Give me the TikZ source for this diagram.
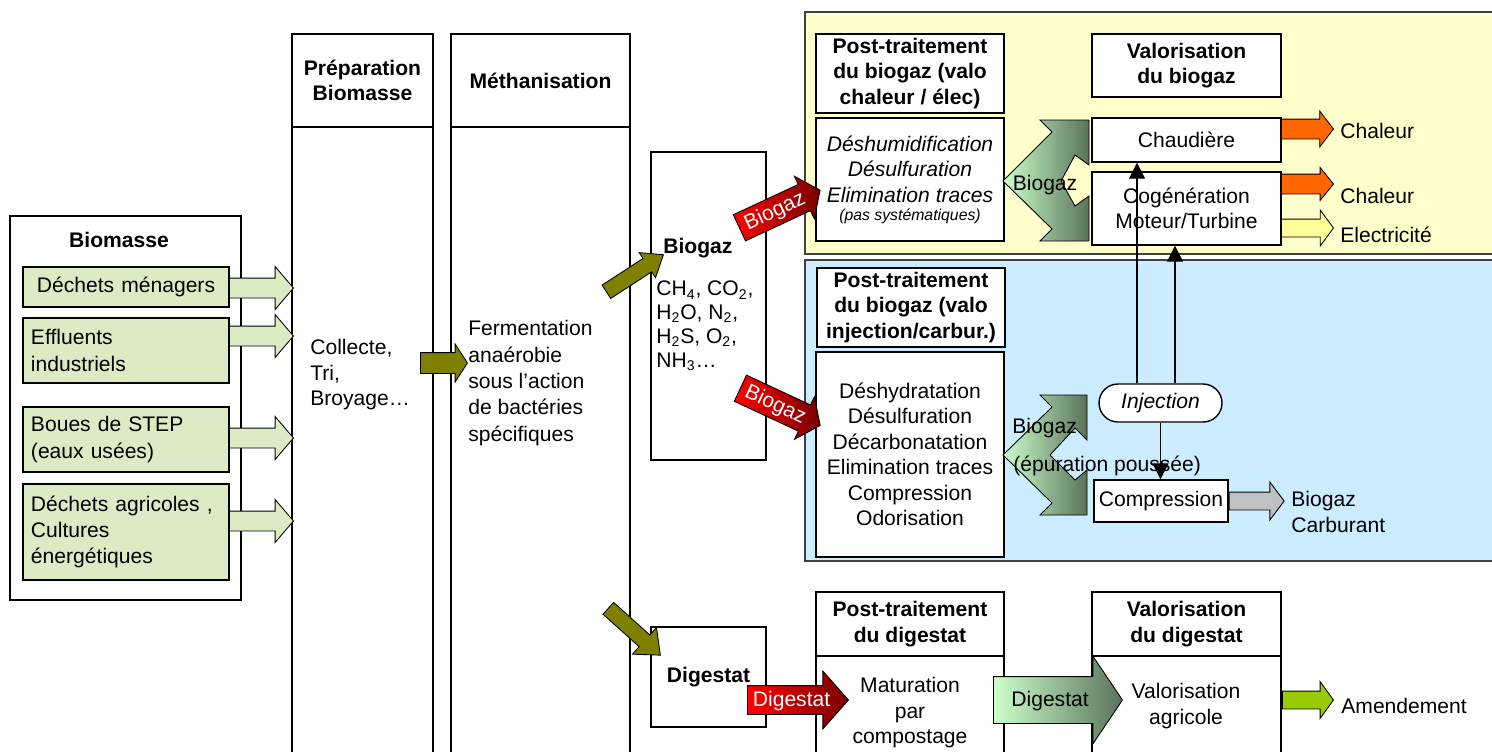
\documentclass[tikz,border=0pt]{standalone}
\usepackage{fontspec}
\setmainfont{Liberation Sans}
\usepackage{xcolor}
\usetikzlibrary{shapes.arrows,arrows.meta,positioning}

\definecolor{srcgreen}{RGB}{220,235,195}
\definecolor{olivebr}{RGB}{128,128,0}
\definecolor{zonejaune}{RGB}{255,255,204}
\definecolor{zonebleu}{RGB}{204,236,255}
\definecolor{orangeh}{RGB}{255,102,0}
\definecolor{jauneel}{RGB}{255,255,153}
\definecolor{griscarb}{RGB}{192,192,192}
\definecolor{vertamend}{RGB}{153,204,0}
\definecolor{rougeclair}{RGB}{255,0,0}
\definecolor{rougefonce}{RGB}{120,0,0}
\definecolor{vertclair}{RGB}{204,255,204}
\definecolor{vertfonce}{RGB}{90,115,90}

\newcommand{\diagfont}{\fontsize{12}{14.5}\selectfont}

\begin{document}
\begin{tikzpicture}[
  x=0.2mm, y=-0.2mm,
  font=\diagfont,
  box/.style={
    draw=black,
    line width=0.8pt,
    fill=white,
    inner sep=0pt,
    align=center
  },
  sz/.style 2 args={
    minimum width=#1*0.2mm,
    minimum height=#2*0.2mm
  },
  src/.style={
    box,
    fill=srcgreen,
    align=left,
    text width=38mm,
    inner xsep=1.6mm,
    font=\fontsize{12}{15}\selectfont
  },
  ttl/.style={
    inner sep=0pt,
    align=center,
    font=\diagfont\bfseries
  },
  txt/.style={
    inner sep=0pt,
    align=left
  },
  zone/.style={
    draw=black!75,
    line width=0.8pt,
    inner sep=0pt
  },
  chev/.style={
    draw=black,
    line width=0.5pt,
    left color=vertclair,
    right color=vertfonce
  },
  barrow/.style={
    single arrow,
    draw=black,
    line width=0.5pt,
    single arrow head indent=0pt,
    inner xsep=0pt,
    anchor=tail
  },
  tarrow/.style={
    barrow,
    text height=3mm,
    text depth=0.6mm,
    inner ysep=1mm
  },
  conn/.style={
    -{Triangle[length=3.2mm,width=3.2mm]},
    line width=0.6pt
  }
]
  \useasboundingbox (0,0) rectangle (1492,751);

  % Zones de valorisation
  \node[zone, fill=zonejaune, sz={690}{242}] (zchal) at (1150,133) {};
  \node[zone, fill=zonebleu, sz={690}{301}] (zinj) at (1150,410.5) {};

  % Biomasse
  \node[box, sz={231}{384}] (biomasse) at (125.5,408) {};
  \node[ttl] (tbiom) at (119,240) {Biomasse};
  \node[src, sz={206}{40}, align=center] (menag) at (126,287) {Déchets ménagers};
  \node[src, sz={206}{65}] (efflu) at (126,350.5) {Effluents\\industriels};
  \node[src, sz={206}{65}] (boues) at (126,439.5) {Boues de STEP\\(eaux usées)};
  \node[src, sz={206}{96}] (agri) at (126,532) {Déchets agricoles ,\\Cultures\\énergétiques};

  % Preparation
  \node[box, sz={141}{93}, font=\diagfont\bfseries] (prepH) at (362.5,80.5) {Préparation\\Biomasse};
  \node[box, sz={141}{643}] (prepB) at (362.5,448.5) {};
  \node[txt, anchor=west] (prepT) at (310,375) {Collecte,\\Tri,\\Broyage…};

  % Methanisation
  \node[box, sz={179}{93}, font=\diagfont\bfseries] (methH) at (540.5,80.5) {Méthanisation};
  \node[box, sz={179}{643}] (methB) at (540.5,448.5) {};
  \node[txt, anchor=west, font=\fontsize{12}{15}\selectfont] (methT) at (468,383) {Fermentation\\anaérobie\\sous l’action\\de bactéries\\spécifiques};

  % Produits
  \node[box, sz={115}{308}] (biogaz) at (708.5,306) {};
  \node[ttl, anchor=west] (tbiogaz) at (663,248) {Biogaz};
  \node[txt, anchor=west, font=\fontsize{12}{13.6}\selectfont] (compo) at (656,326) {CH\textsubscript{4}, CO\textsubscript{2},\\H\textsubscript{2}O, N\textsubscript{2},\\H\textsubscript{2}S, O\textsubscript{2},\\NH\textsubscript{3}…};
  \node[box, sz={115}{100}, font=\diagfont\bfseries] (digestat) at (708.5,677) {Digestat};

  % Valo chaleur / elec
  \node[box, sz={188}{79}, font=\diagfont\bfseries] (ptChalH) at (910,73.5) {Post-traitement\\du biogaz (valo\\chaleur / élec)};
  \node[box, sz={188}{123}, font=\diagfont\itshape] (ptChalB) at (910,179.5) {Déshumidification\\Désulfuration\\Elimination traces\\[-1.5mm]{\fontsize{9}{10}\selectfont(pas systématiques)}};
  \node[box, sz={189}{63}, font=\diagfont\bfseries] (valBioH) at (1186.5,65.5) {Valorisation\\du biogaz};
  \node[box, sz={189}{44}] (chaud) at (1186.5,140) {Chaudière};
  \node[box, sz={189}{73}] (cogen) at (1186.5,208.5) {Cogénération\\Moteur/Turbine};

  % Valo injection / carburant
  \node[box, sz={188}{79}, font=\diagfont\bfseries] (ptInjH) at (911,307.5) {Post-traitement\\du biogaz (valo\\injection/carbur.)};
  \node[box, sz={188}{205}] (ptInjB) at (910,454.5) {Déshydratation\\Désulfuration\\Décarbonatation\\Elimination traces\\Compression\\Odorisation};
  \node[box, sz={123}{38}, rounded corners=3.8mm, font=\diagfont\itshape] (inj) at (1160.5,403) {Injection};
  \node[box, sz={134}{42}] (comp) at (1161,501) {Compression};

  % Digestat
  \node[box, sz={188}{64}, font=\diagfont\bfseries] (ptDigH) at (910,624) {Post-traitement\\du digestat};
  \node[box, sz={188}{114}] (ptDigB) at (910,713) {Maturation\\par\\compostage};
  \node[box, sz={189}{64}, font=\diagfont\bfseries] (valDigH) at (1186.5,624) {Valorisation\\du digestat};
  \node[box, sz={189}{114}] (valDigB) at (1186.5,713) {};
  \node[txt, align=center] (valDigT) at (1186,706) {Valorisation\\agricole};

  % Chevrons biogaz
  \draw[chev] (1040,120) -- (1089,120) -- (1089,165) -- (1075,155) -- (1061,181) -- (1075,206) -- (1089,196) -- (1089,241) -- (1040,241) -- (1052,229) -- (1003,181) -- (1052,132) -- cycle;
  \node[txt] (tchev1) at (1045,185) {Biogaz};
  \draw[chev] (1040,395) -- (1087,395) -- (1087,440) -- (1075,428) -- (1050,455) -- (1075,480) -- (1087,470) -- (1087,515) -- (1040,515) -- (1052,503) -- (1003,455) -- (1052,407) -- cycle;
  \node[txt, anchor=west] (tchev2) at (1012,428) {Biogaz};
  \node[txt, anchor=west] (tepur) at (1013,466) {(épuration poussée)};

  % Sorties
  \node[txt, anchor=west] (chal1) at (1340,131) {Chaleur};
  \node[txt, anchor=west] (chal2) at (1340,196) {Chaleur};
  \node[txt, anchor=west] (elec) at (1340,235) {Electricité};
  \node[txt, anchor=west] (carb) at (1291,512) {Biogaz\\Carburant};
  \node[txt, anchor=west] (amend) at (1341,706) {Amendement};

  % Fleches biomasse
  \foreach \y in {288,336,438,521}
    \node[barrow, fill=srcgreen, inner ysep=1.9mm, single arrow head extend=2.3mm, single arrow tip angle=99, minimum height=12.8mm] (src\y) at (229,\y) {};

  % Fleches olive
  \node[barrow, fill=olivebr, inner ysep=2mm, single arrow head extend=1.7mm, single arrow tip angle=114, minimum height=9.4mm] (olive1) at (420,363) {};
  \node[barrow, fill=olivebr, rotate=33, inner ysep=1.5mm, single arrow head extend=1.4mm, single arrow tip angle=76, minimum height=13.6mm] (olive2) at (606,292) {};
  \node[barrow, fill=olivebr, rotate=-42, inner ysep=1.5mm, single arrow head extend=2mm, single arrow tip angle=80, minimum height=14mm] (olive3) at (608,608) {};

  % Fleches rouges et vertes
  \node[tarrow, left color=rougeclair, right color=rougefonce, text=white, rotate=25, single arrow head extend=1.8mm, single arrow tip angle=107, minimum height=17.8mm] (rouge1) at (739,228) {Biogaz};
  \node[tarrow, left color=rougeclair, right color=rougefonce, text=white, rotate=-25, single arrow head extend=1.8mm, single arrow tip angle=107, minimum height=17.6mm] (rouge2) at (740,388) {Biogaz};
  \node[tarrow, left color=rougeclair, right color=rougefonce, text=white, single arrow head extend=2.9mm, single arrow tip angle=97, minimum height=20.2mm] (rouge3) at (747,700) {Digestat};
  \node[tarrow, left color=vertclair, right color=vertfonce, inner ysep=2.8mm, single arrow head extend=4.1mm, single arrow tip angle=112, minimum height=25.8mm] (vert1) at (993,700) {Digestat};

  % Fleches de sortie
  \node[barrow, fill=orangeh, inner ysep=1.9mm, single arrow head extend=1.6mm, single arrow tip angle=105, minimum height=10.4mm] (or1) at (1281,129) {};
  \node[barrow, fill=orangeh, inner ysep=1.9mm, single arrow head extend=1.3mm, single arrow tip angle=102, minimum height=10.4mm] (or2) at (1281,184) {};
  \node[barrow, fill=jauneel, inner ysep=1.7mm, single arrow head extend=1.8mm, single arrow tip angle=107, minimum height=10.4mm] (jel) at (1281,228) {};
  \node[barrow, fill=griscarb, inner ysep=1.7mm, single arrow head extend=2mm, single arrow tip angle=106, minimum height=11mm] (gris) at (comp.east) {};
  \node[barrow, fill=vertamend, inner ysep=1.7mm, single arrow head extend=1.9mm, single arrow tip angle=108, minimum height=10.2mm] (amendar) at (1282,700) {};

  % Injection
  \draw[conn] ([xshift=-4.7mm]inj.north) -- ([xshift=-4.7mm]inj.north |- chaud.south);
  \draw[conn] ([xshift=2.9mm]inj.north) -- ([xshift=2.9mm]inj.north |- cogen.south);
  \draw[conn] (inj.south) -- (inj.south |- comp.north);

\end{tikzpicture}
\end{document}
